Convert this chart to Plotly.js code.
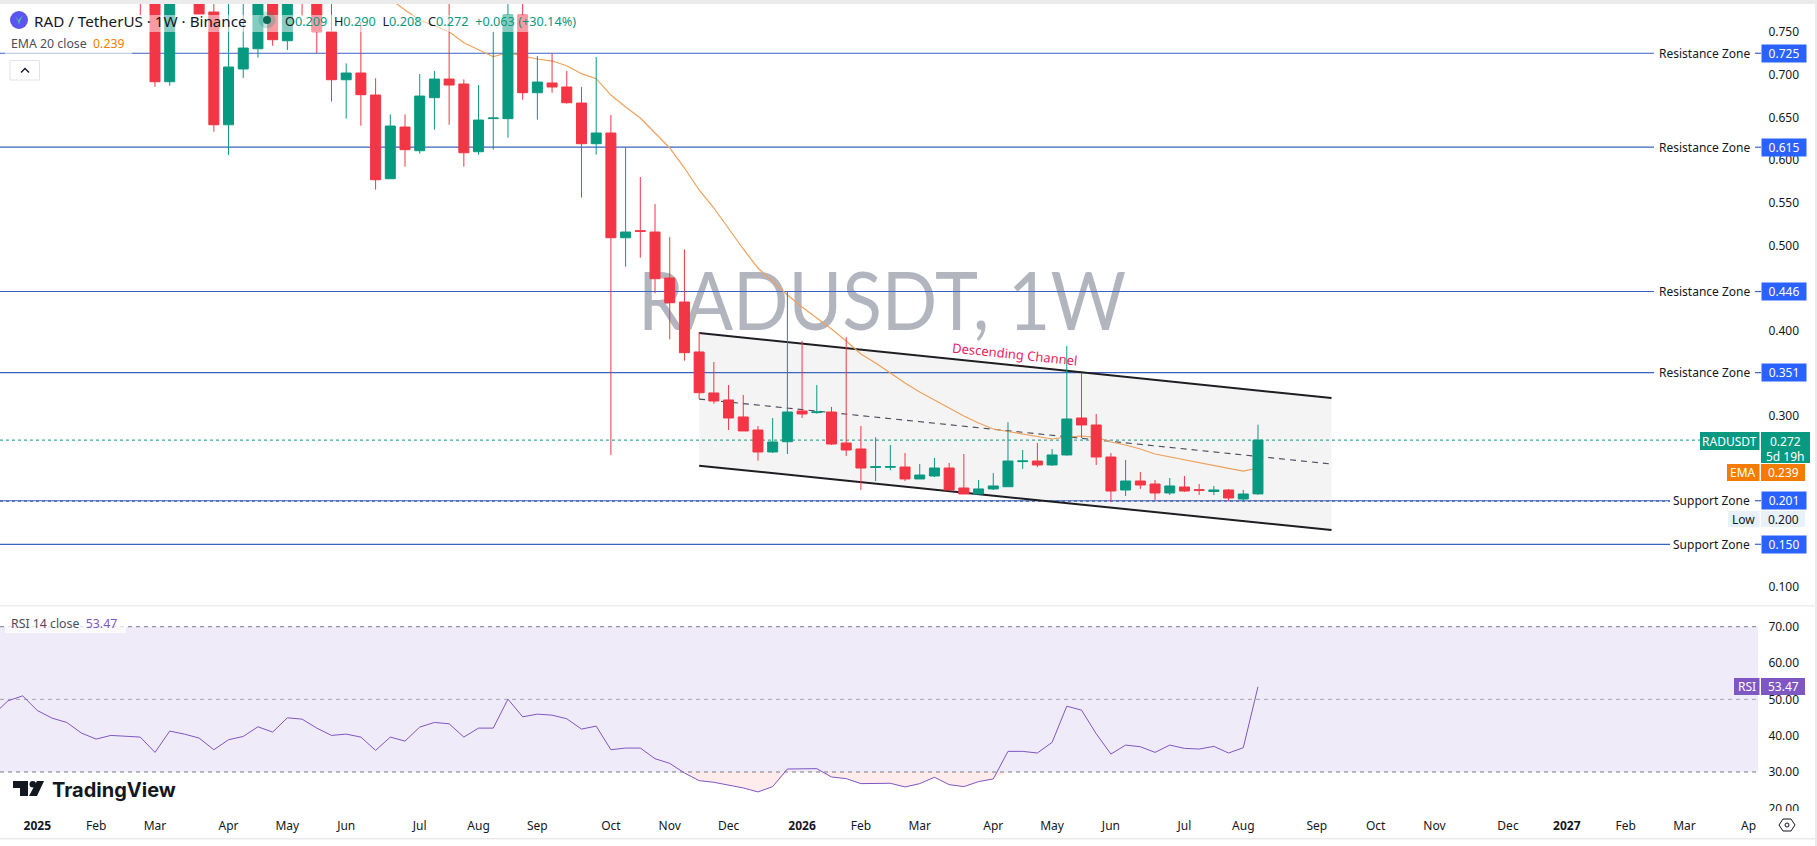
<!DOCTYPE html>
<html>
<head>
<meta charset="utf-8">
<title>RADUSDT 1W</title>
<script src="https://cdn.plot.ly/plotly-3.0.1.min.js"></script>
<style>
  html, body { margin: 0; padding: 0; background: #fff; }
  #chart { width: 1817px; height: 846px; }
  /* the watermark letters are narrower than any installed face */
  #chart .layer-below text { transform-box: fill-box; transform-origin: center; transform: scaleX(0.89); }
</style>
</head>
<body>
<div id="chart"></div>
<script>
// ── Data ─────────────────────────────────────
const weeks = [
  "2024-12-16","2024-12-23","2024-12-30","2025-01-06","2025-01-13","2025-01-20","2025-01-27","2025-02-03",
  "2025-02-10","2025-02-17","2025-02-24","2025-03-03","2025-03-10","2025-03-17","2025-03-24","2025-03-31",
  "2025-04-07","2025-04-14","2025-04-21","2025-04-28","2025-05-05","2025-05-12","2025-05-19","2025-05-26",
  "2025-06-02","2025-06-09","2025-06-16","2025-06-23","2025-06-30","2025-07-07","2025-07-14","2025-07-21",
  "2025-07-28","2025-08-04","2025-08-11","2025-08-18","2025-08-25","2025-09-01","2025-09-08","2025-09-15",
  "2025-09-22","2025-09-29","2025-10-06","2025-10-13","2025-10-20","2025-10-27","2025-11-03","2025-11-10",
  "2025-11-17","2025-11-24","2025-12-01","2025-12-08","2025-12-15","2025-12-22","2025-12-29","2026-01-05",
  "2026-01-12","2026-01-19","2026-01-26","2026-02-02","2026-02-09","2026-02-16","2026-02-23","2026-03-02",
  "2026-03-09","2026-03-16","2026-03-23","2026-03-30","2026-04-06","2026-04-13","2026-04-20","2026-04-27",
  "2026-05-04","2026-05-11","2026-05-18","2026-05-25","2026-06-01","2026-06-08","2026-06-15","2026-06-22",
  "2026-06-29","2026-07-06","2026-07-13","2026-07-20","2026-07-27","2026-08-03","2026-08-10"
];

// candles start at 2025-02-24; parts above the visible range are estimates
const opens = [
  .84,.80,.6917,.86,.85,.7733,.6413,.7066,.7303,.80,.7397,.84,.80,.7502,.6940,.7019,.6761,.5781,.6386,.6109,
  .6730,.6948,.6890,.6097,.6485,.6484,.7698,.6788,.6902,.6855,.6667,.6191,.6316,.5090,.5172,.5157,.4618,.4337,
  .3752,.3272,.3190,.2991,.2838,.2581,.2701,.3061,.3042,.3049,.2686,.2616,.2400,.2402,.2405,.2265,.2300,.2393,
  .2159,.2089,.2148,.2174,.2468,.2475,.2429,.2546,.2979,.2897,.2522,.2136,.2241,.2206,.2101,.2171,.2140,.2118,
  .2136,.2030,.209
];
const highs = [
  .86,.83,.86,.88,.87,.80,.80,.79,.82,.83,.83,.86,.82,.80,.7132,.7620,.6957,.6535,.6535,.7007,
  .7042,.80,.6945,.6878,.7502,.80,.80,.7218,.7249,.7042,.6855,.7206,.6527,.6149,.5801,.5485,.5098,.4954,
  .3982,.3635,.3365,.3248,.2885,.2979,.4458,.3881,.3365,.3108,.3927,.2885,.2753,.2663,.2569,.2440,.2511,.2452,
  .2557,.2253,.2335,.2929,.2604,.2686,.2616,.3822,.3502,.3026,.2569,.2487,.2347,.2253,.2276,.2300,.2206,.2183,
  .2148,.2136,.290
];
const lows = [
  .7698,.6858,.6870,.80,.771,.6331,.6059,.6960,.7198,.7338,.7288,.769,.7249,.6683,.6484,.6402,.5652,.5781,.5922,.6074,
  .6355,.6413,.5922,.6062,.6121,.6261,.6706,.6472,.6788,.6659,.5559,.6062,.2546,.4751,.4856,.4439,.3900,.3650,
  .3201,.3146,.2838,.2827,.2479,.2569,.2557,.2979,.3030,.2663,.2534,.2136,.2241,.2367,.2241,.2265,.2288,.2136,
  .2089,.2085,.2136,.2174,.2382,.2405,.2417,.2537,.2745,.2429,.2000,.2066,.2148,.2019,.2077,.2112,.2077,.2077,
  .2005,.2000,.208
];
const closes = [
  .80,.6917,.82,.82,.771,.6413,.7089,.7311,.80,.7409,.80,.80,.7502,.6940,.7019,.6765,.5769,.6398,.6121,.6749,
  .6948,.6878,.6085,.6468,.6492,.7698,.6788,.6913,.6855,.6671,.6191,.6316,.5090,.5157,.5165,.4610,.4329,.3744,
  .3275,.3178,.2979,.2827,.2581,.2698,.3049,.3026,.3050,.2674,.2604,.2393,.2408,.2410,.2265,.2311,.2393,.2136,
  .2089,.2148,.2183,.2475,.2476,.2429,.2546,.2967,.2897,.2522,.2124,.2241,.2194,.2101,.2183,.2124,.2132,.2136,
  .2042,.2089,.272
];

// EMA 20 from 2025-06-23, the part that comes into view
const ema20 = [
  .7885,.7756,.7639,.7569,.7502,.7373,.7288,.7210,.7256,.7218,.7183,.7159,.7104,.7011,.6952,.6761,.6620,.6492,.6316,.6141,
  .5906,.5649,.5438,.5192,.4958,.4735,.4571,.4419,.4279,.4150,.4021,.3881,.3728,.3623,.3506,.3389,.3283,.3190,.3096,.3002,
  .2920,.2850,.2821,.2792,.2756,.2733,.2756,.2768,.2751,.2698,.2663,.2616,.2557,.2522,.2487,.2452,.2417,.2388,.2358,.2393
];

const rsi14 = [
  45.74,49.59,50.96,46.93,44.83,43.64,40.71,39.06,40.07,39.89,39.61,35.40,41.26,40.43,39.34,36.13,38.88,39.79,42.45,40.98,
  44.92,44.55,42.08,40.07,40.43,39.61,35.95,39.61,38.51,42.36,43.64,43.27,39.61,42.08,42.08,50.05,45.19,45.93,45.65,44.65,
  41.81,42.63,36.13,36.59,36.59,33.66,32.38,29.73,27.62,27.16,26.34,25.61,24.51,25.97,30.82,30.82,30.92,28.63,28.17,26.80,
  26.89,26.89,25.88,26.80,28.54,26.52,25.97,27.35,28.08,35.68,35.68,35.22,38.15,48.12,47.03,40.53,34.94,37.41,36.96,35.40,
  37.41,36.50,36.32,37.05,35.22,36.68,53.47
];

const zoneValues = [0.725, 0.615, 0.446, 0.351, 0.201, 0.150];
const zoneLabels = ["Resistance Zone", "Resistance Zone", "Resistance Zone", "Resistance Zone", "Support Zone", "Support Zone"];

const channelDates = ["2025-11-17", "2026-09-14"];
const channelTop = [0.3974, 0.3213];
const channelMid = [0.3201, 0.2440];
const channelBottom = [0.2420, 0.1667];

const lastPrice = 0.272;
const lowPrice = 0.2005;

const priceTicks = [0.1, 0.3, 0.4, 0.5, 0.55, 0.6, 0.65, 0.7, 0.75];
const rsiTicks = [20, 30, 40, 50, 60, 70];

const monthTicks = [
  "2025-01-06","2025-02-03","2025-03-03","2025-04-07","2025-05-05","2025-06-02","2025-07-07","2025-08-04","2025-09-01",
  "2025-10-06","2025-11-03","2025-12-01","2026-01-05","2026-02-02","2026-03-02","2026-04-06","2026-05-04","2026-06-01",
  "2026-07-06","2026-08-03","2026-09-07","2026-10-05","2026-11-02","2026-12-07","2027-01-04","2027-02-01","2027-03-01"
];
const monthLabels = [
  "<b>2025</b>","Feb","Mar","Apr","May","Jun","Jul","Aug","Sep","Oct","Nov","Dec",
  "<b>2026</b>","Feb","Mar","Apr","May","Jun","Jul","Aug","Sep","Oct","Nov","Dec",
  "<b>2027</b>","Feb","Mar"
];

// ── Page geometry and colours ────────────────
const W = 1817, H = 846;
const PANE_R = 1758;
const FONT = '"Noto Sans", Roboto, sans-serif';
const TEAL = "#089981", RED = "#f23645", ZONE = "#3a62c4", TAG = "#2962ff";
const ORANGE = "#f57c00", PURPLE = "#7e57c2", INK = "#131722";

const px = (x) => x / W;
const py = (y) => 1 - y / H;

const shapes = [];
const notes = [];

function note(x, y, text, size, extra) {
  notes.push({
    xref: "paper", yref: "paper", x: px(x), y: py(y), text: text,
    showarrow: false, xanchor: "left", yanchor: "middle",
    font: { family: FONT, size: size, color: INK }, ...extra,
  });
}

function box(x0, y0, x1, y1, fill, layer, line) {
  shapes.push({
    type: "rect", xref: "paper", yref: "paper", layer: layer || "above",
    x0: px(x0), x1: px(x1), y0: py(y0), y1: py(y1),
    fillcolor: fill, line: line || { width: 0 },
  });
}

function tag(x0, y0, x1, y1, fill, text, color) {
  box(x0, y0, x1, y1, fill);
  note((x0 + x1) / 2, (y0 + y1) / 2, text, 12, { xanchor: "center", font: { family: FONT, size: 12, color: color || "#fff" } });
}

function pixelPath(points, close) {
  return points.map((p, i) => (i ? "L" : "M") + px(p[0]) + "," + py(p[1])).join(" ") + (close ? " Z" : "");
}

// ── Frame ────────────────────────────────────
box(0, 0, W, 4, "#ebebeb");
box(1815, 0, W, H, "#ebebeb");
box(0, 605, W, 606.5, "#eeeeee");
box(0, 838, W, 839.5, "#e9e9e9");
box(1759, 811, 1815, 818, "#ffffff"); // cuts the 20.00 label like the pane edge does

// ── Watermark, under the candles ─────────────
shapes.push({
  type: "rect", xref: "paper", yref: "paper", layer: "below",
  x0: px(600), x1: px(1164), y0: py(335), y1: py(260),
  line: { width: 0 }, fillcolor: "rgba(0,0,0,0)",
  label: {
    text: "RADUSDT, 1W", textposition: "middle center",
    font: { family: "Lato, " + FONT, size: 82, color: "#b2b5be" },
  },
});

// ── Zone lines and their tags ────────────────
zoneValues.forEach((v, i) => {
  const support = zoneLabels[i] === "Support Zone";
  shapes.push({
    type: "line", xref: "x domain", yref: "y", layer: "below",
    x0: 0, x1: (support ? 1670 : 1654) / PANE_R, y0: v, y1: v,
    line: { color: ZONE, width: 1.2 },
  });
  shapes.push({
    type: "line", xref: "paper", yref: "y", layer: "below",
    x0: px(1755), x1: px(1761), y0: v, y1: v,
    line: { color: ZONE, width: 1.2 },
  });
  notes.push({
    xref: "paper", yref: "y", x: px(1752), y: v, text: zoneLabels[i],
    showarrow: false, xanchor: "right", yanchor: "middle",
    font: { family: FONT, size: 12, color: INK },
  });
  notes.push({
    xref: "paper", yref: "y", x: px(1761), y: v, text: v.toFixed(3),
    showarrow: false, xanchor: "left", yanchor: "middle",
    width: 44, height: 17, borderpad: 0, bgcolor: TAG, align: "center",
    font: { family: FONT, size: 12, color: "#fff" },
  });
});

// Last price and low, dotted
shapes.push({
  type: "line", xref: "x domain", yref: "y", layer: "below",
  x0: 0, x1: 1700 / PANE_R, y0: lastPrice, y1: lastPrice,
  line: { color: TEAL, width: 1, dash: "dot" },
});
shapes.push({
  type: "line", xref: "x domain", yref: "y", layer: "below",
  x0: 0, x1: 1670 / PANE_R, y0: lowPrice, y1: lowPrice,
  line: { color: "#2a4a9c", width: 1, dash: "dot" },
});

// ── RSI band and levels ──────────────────────
shapes.push({
  type: "rect", xref: "x domain", yref: "y2", layer: "below",
  x0: 0, x1: 1, y0: 30, y1: 70, fillcolor: "#f0ebf9", line: { width: 0 },
});
[70, 50, 30].forEach((v) => {
  shapes.push({
    type: "line", xref: "x domain", yref: "y2", layer: "below",
    x0: 0, x1: 1, y0: v, y1: v,
    line: { color: v === 50 ? "#a3a3ad" : "#787b86", width: 1, dash: "4px,4px" },
  });
});

// ── Right side tags ──────────────────────────
tag(1700, 432, 1759.5, 450, TEAL, "RADUSDT");
tag(1761, 432, 1810, 450, TEAL, "0.272");
tag(1761, 450, 1810, 463, TEAL, "5d 19h");
tag(1727, 464, 1759.5, 481, ORANGE, "EMA");
tag(1761, 464, 1805, 481, ORANGE, "0.239");
tag(1728, 511, 1759.5, 527, "#e8f0fa", "Low", INK);
tag(1761, 511, 1805, 527, "#e8f0fa", "0.200", INK);
tag(1734, 678, 1759.5, 695, PURPLE, "RSI");
tag(1761, 678, 1805, 695, PURPLE, "53.47");

// ── Top left legend ──────────────────────────
box(0, 15, 576, 32, "rgba(255,255,255,0.5)");
box(5, 36, 132, 55, "rgba(255,255,255,0.6)");
shapes.push({
  type: "circle", xref: "paper", yref: "paper", layer: "above",
  x0: px(10), x1: px(28), y0: py(11), y1: py(29),
  fillcolor: "#5a55f0", line: { width: 0 },
});
shapes.push({
  type: "path", xref: "paper", yref: "paper", layer: "above",
  path: pixelPath([[15, 16], [18.5, 20], [23, 15], [20, 21], [19, 25], [18, 21]], true),
  fillcolor: "#4fc3a1", line: { width: 0 },
});
note(31.5, 21, "RAD / TetherUS · 1W · Binance", 15.2);
shapes.push({
  type: "circle", xref: "paper", yref: "paper", layer: "above",
  x0: px(258.5), x1: px(275.5), y0: py(11.5), y1: py(28.5),
  fillcolor: "rgba(8,153,129,0.25)", line: { width: 0 },
});
shapes.push({
  type: "circle", xref: "paper", yref: "paper", layer: "above",
  x0: px(263), x1: px(271), y0: py(16), y1: py(24),
  fillcolor: "#0b6b58", line: { width: 0 },
});
const up = (s) => `<span style="color:${TEAL}">${s}</span>`;
note(283, 21, `O${up("0.209")}  H${up("0.290")}  L${up("0.208")}  C${up("0.272")}  ${up("+0.063 (+30.14%)")}`, 12.7);
note(9, 44, `<span style="color:#4a4e5a">EMA 20 close</span>  <span style="color:${ORANGE}">0.239</span>`, 12.3);

box(10, 60.5, 39.5, 80, "#ffffff", "above", { color: "#e0e3eb", width: 1 });
shapes.push({
  type: "path", xref: "paper", yref: "paper", layer: "above",
  path: pixelPath([[21, 72.5], [25, 68.5], [29, 72.5]]),
  line: { color: INK, width: 1.4 },
});

// Channel text and RSI legend
note(1015, 354, "Descending Channel", 13, {
  xanchor: "center", textangle: 6, font: { family: FONT, size: 13, color: "#e91e63" },
});
box(5, 620, 126, 633, "rgba(255,255,255,0.75)");
note(9, 623, `<span style="color:#4a4e5a">RSI 14 close</span>  <span style="color:${PURPLE}">53.47</span>`, 12.3);

// ── TradingView mark ─────────────────────────
shapes.push({
  type: "path", xref: "paper", yref: "paper", layer: "above",
  path: pixelPath([[13, 781], [28, 781], [28, 796], [20, 796], [20, 788], [13, 788]], true),
  fillcolor: INK, line: { width: 0 },
});
shapes.push({
  type: "circle", xref: "paper", yref: "paper", layer: "above",
  x0: px(29.5), x1: px(36), y0: py(781), y1: py(787.5),
  fillcolor: INK, line: { width: 0 },
});
shapes.push({
  type: "path", xref: "paper", yref: "paper", layer: "above",
  path: pixelPath([[37, 781], [44, 781], [37, 796], [29, 796]], true),
  fillcolor: INK, line: { width: 0 },
});
note(50, 790, "<b>TradingView</b>", 20, { font: { family: "Inter, " + FONT, size: 20, color: INK } });

// ── Clipped April label and settings icon ────
note(1758, 825, "Ap", 12, { xanchor: "right" });
shapes.push({
  type: "path", xref: "paper", yref: "paper", layer: "above",
  path: pixelPath([[1783, 819], [1791, 819], [1795, 825], [1791, 831], [1783, 831], [1779, 825]], true),
  line: { color: INK, width: 1 }, fillcolor: "#fff",
});
shapes.push({
  type: "circle", xref: "paper", yref: "paper", layer: "above",
  x0: px(1785), x1: px(1789), y0: py(823), y1: py(827),
  line: { color: INK, width: 1 }, fillcolor: "#fff",
});

// ── Traces ───────────────────────────────────
const candleDates = weeks.slice(10);
const emaDates = weeks.slice(27);

const traces = [
  {
    type: "scatter", mode: "none", fill: "toself", fillcolor: "rgba(134,137,147,0.09)",
    x: [channelDates[0], channelDates[1], channelDates[1], channelDates[0]],
    y: [channelTop[0], channelTop[1], channelBottom[1], channelBottom[0]],
    hoverinfo: "skip", zorder: -2,
  },
  {
    type: "scatter", mode: "lines", x: channelDates, y: channelTop,
    line: { color: "#1e1e22", width: 2 }, hoverinfo: "skip", zorder: -1,
  },
  {
    type: "scatter", mode: "lines", x: channelDates, y: channelBottom,
    line: { color: "#1e1e22", width: 2 }, hoverinfo: "skip", zorder: -1,
  },
  {
    type: "scatter", mode: "lines", x: channelDates, y: channelMid,
    line: { color: "#4a4e5a", width: 1.2, dash: "6px,5px" }, hoverinfo: "skip", zorder: -1,
  },
  {
    type: "scatter", mode: "lines", x: emaDates, y: ema20,
    line: { color: "#f0a05a", width: 1.2 }, hoverinfo: "skip", zorder: 0,
  },
  {
    type: "candlestick", x: candleDates, open: opens, high: highs, low: lows, close: closes,
    increasing: { line: { color: TEAL, width: 1 }, fillcolor: TEAL },
    decreasing: { line: { color: RED, width: 1 }, fillcolor: RED },
    whiskerwidth: 0, hoverinfo: "skip", zorder: 1,
  },
  // RSI pane: baseline at 30, then the part under it shaded
  {
    type: "scatter", mode: "lines", x: weeks, y: weeks.map(() => 30), yaxis: "y2",
    line: { width: 0 }, hoverinfo: "skip",
  },
  {
    type: "scatter", mode: "lines", x: weeks, y: rsi14.map((v) => Math.min(v, 30)), yaxis: "y2",
    line: { width: 0 }, fill: "tonexty", fillcolor: "rgba(242,54,69,0.10)", hoverinfo: "skip",
  },
  {
    type: "scatter", mode: "lines", x: weeks, y: rsi14, yaxis: "y2",
    line: { color: PURPLE, width: 1 }, hoverinfo: "skip",
  },
];

const layout = {
  width: W,
  height: H,
  margin: { t: 0, r: 0, b: 0, l: 0 },
  paper_bgcolor: "#ffffff",
  plot_bgcolor: "rgba(0,0,0,0)",
  showlegend: false,
  boxmode: "overlay",
  boxgap: 0.32,
  boxgroupgap: 0,
  font: { family: FONT, size: 12, color: INK },
  xaxis: {
    type: "date",
    domain: [0, px(PANE_R)],
    range: ["2024-12-19 05:20", "2027-04-05"],
    anchor: "y2",
    rangeslider: { visible: false },
    showgrid: false,
    zeroline: false,
    showline: false,
    tickmode: "array",
    tickvals: monthTicks,
    ticktext: monthLabels,
    tickangle: 0,
    ticks: "outside",
    ticklen: 4,
    tickcolor: "rgba(0,0,0,0)",
    tickfont: { family: FONT, size: 12, color: INK },
  },
  yaxis: {
    domain: [py(605), py(4)],
    range: [0.0789, 0.7827],
    side: "right",
    showgrid: false,
    zeroline: false,
    showline: false,
    tickmode: "array",
    tickvals: priceTicks,
    ticktext: priceTicks.map((v) => v.toFixed(3)),
    ticks: "outside",
    ticklen: 7,
    tickcolor: "rgba(0,0,0,0)",
    tickfont: { family: FONT, size: 12, color: INK },
  },
  yaxis2: {
    domain: [py(811), py(606)],
    range: [19.26, 75.7],
    side: "right",
    anchor: "x",
    showgrid: false,
    zeroline: false,
    showline: false,
    tickmode: "array",
    tickvals: rsiTicks,
    ticktext: rsiTicks.map((v) => v.toFixed(2)),
    ticks: "outside",
    ticklen: 7,
    tickcolor: "rgba(0,0,0,0)",
    tickfont: { family: FONT, size: 12, color: INK },
  },
  shapes: shapes,
  annotations: notes,
};

Plotly.newPlot("chart", traces, layout, { staticPlot: true, displayModeBar: false });
</script>
</body>
</html>
